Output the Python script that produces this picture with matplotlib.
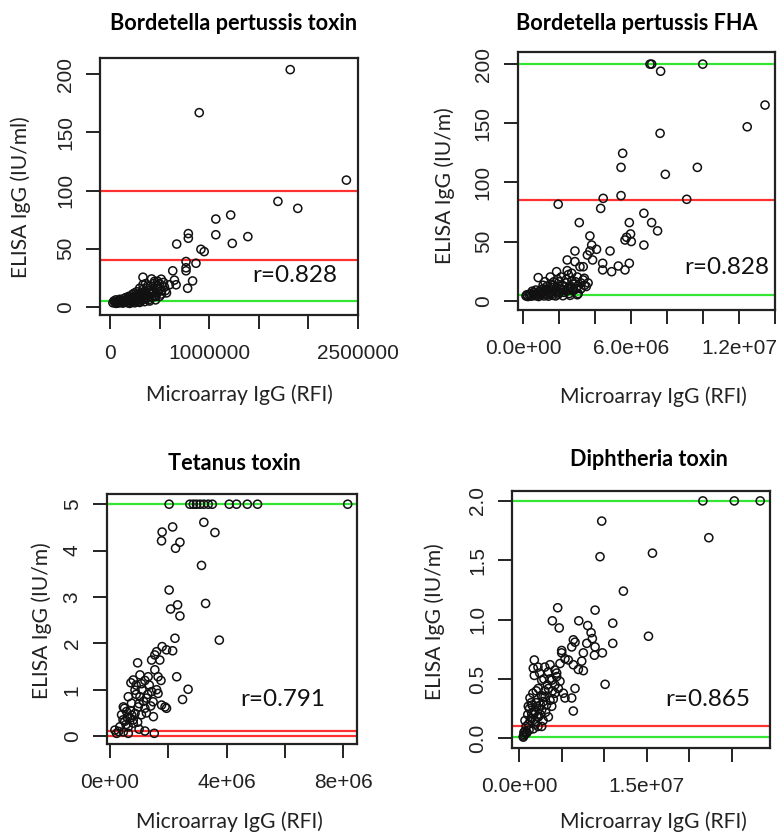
import numpy as np
import matplotlib
matplotlib.use("Agg")
import matplotlib.pyplot as plt

W, H = 777, 834
DPI = 100

LABEL_FONT = ["Lato", "DejaVu Sans"]
TICK_FONT = ["Liberation Sans", "DejaVu Sans"]
RED = "#ff3030"
GREEN = "#33e633"

# ---- Bordetella pertussis toxin (x in millions of RFI, y in IU/ml)
pt_x = [1.817, 0.90, 2.383, 1.693, 1.893, 1.217, 1.067, 0.79, 0.79, 1.067, 1.39, 0.673,
        1.233, 0.917, 0.95, 0.767, 0.867, 0.767, 0.767, 0.633, 0.65, 0.833, 0.783, 0.667,
        0.60, 0.517, 0.333, 0.333, 0.50,
        0.03, 0.05, 0.06, 0.08, 0.10, 0.12, 0.13, 0.15, 0.17, 0.18, 0.20, 0.21, 0.22, 0.24,
        0.25, 0.26, 0.28, 0.29, 0.30, 0.31, 0.32, 0.34, 0.35, 0.36, 0.37, 0.38, 0.39, 0.40,
        0.41, 0.42, 0.43, 0.44, 0.45, 0.46, 0.47, 0.48, 0.50, 0.52, 0.55, 0.57, 0.14, 0.19,
        0.23, 0.27, 0.11, 0.16, 0.09, 0.07, 0.20, 0.25, 0.30, 0.35, 0.33, 0.38, 0.45, 0.27,
        0.33, 0.40,
        0.04, 0.06, 0.08, 0.10, 0.12, 0.14, 0.16, 0.18, 0.20, 0.22, 0.24, 0.26, 0.28, 0.30,
        0.32, 0.34, 0.36, 0.38, 0.40, 0.42, 0.44, 0.46, 0.48, 0.50, 0.52, 0.54, 0.56, 0.36,
        0.30, 0.25, 0.42, 0.48]
pt_y = [204, 167, 109, 90.7, 84.7, 79, 75.5, 63, 59, 62, 60.4, 54,
        54.6, 49.5, 47.5, 39, 37.5, 33.6, 31, 31, 23, 22.3, 16, 19,
        19, 23.8, 25.5, 19, 20,
        3.5, 4, 3, 4.5, 3.8, 5, 3.2, 4.2, 6, 3.5, 5.5, 7, 4, 8,
        5, 6.5, 9, 4.5, 7.5, 11, 5.5, 9.5, 13, 7, 16, 10, 6, 12,
        18, 8.5, 14, 20, 10, 6, 16, 12, 9, 14, 17, 12, 7, 9,
        11, 13, 6, 8, 5.5, 3.5, 3, 3.5, 3.8, 4.5, 15, 18, 22, 10,
        8, 5,
        5, 6, 3.2, 6.5, 4, 5, 4.5, 7.5, 8.5, 6, 5, 9.5, 6, 10,
        12, 6.5, 11, 8, 14, 11, 13, 9, 18, 15, 11, 21, 14, 20,
        16, 12, 24, 22]

# ---- Bordetella pertussis FHA
fha_x = [7.04, 7.13, 9.97, 7.63, 13.43, 12.44, 7.60, 5.52, 5.43, 9.67, 7.89, 5.43,
         9.08, 1.94, 4.44, 4.30, 6.70, 7.13, 5.89, 7.46, 3.11, 5.74, 5.96, 5.65,
         6.70, 3.70, 3.80, 4.07, 3.70, 4.82, 2.87, 3.85, 2.44, 3.33, 2.87, 4.41,
         4.41, 4.91, 5.28, 5.65, 5.89, 2.44, 1.85, 3.33, 0.83, 3.56, 3.15, 2.69,
         3.39, 6.00,
         0.15, 0.25, 0.35, 0.45, 0.55, 0.65, 0.75, 0.85, 0.95, 1.05, 1.15, 1.25,
         1.35, 1.45, 1.55, 1.65, 1.75, 1.85, 1.95, 2.05, 2.15, 2.25, 2.35, 2.45,
         2.55, 2.65, 2.75, 2.85, 2.95, 3.05, 1.10, 1.30, 1.50, 1.70, 1.90, 1.20,
         2.10, 1.00, 0.90, 0.60, 1.40, 1.80, 2.20, 2.60, 3.00, 2.00, 2.40, 2.70,
         3.20, 3.40, 1.60,
         0.20, 0.40, 0.60, 0.80, 1.00, 1.20, 1.40, 1.60, 1.80, 2.00, 2.20, 2.40,
         2.60, 2.80, 3.00, 1.30, 1.70, 2.30, 2.90, 3.20, 1.10, 0.70, 0.50, 2.50,
         3.00, 2.00, 1.50, 3.50, 3.60]
fha_y = [200, 200, 200, 194, 165.4, 147, 141.5, 124.6, 112.7, 112.7, 106.8, 88.8,
         85.7, 81.5, 86.5, 78, 73.9, 66, 66, 59, 66, 53.6, 56.4, 51.3,
         47, 54.7, 47, 43.4, 42, 42, 42, 34.4, 34.4, 28.7, 33, 31.6,
         26, 24.5, 29.3, 26, 31.6, 25.4, 24.5, 17.5, 19.5, 38.6, 28.7, 23.2,
         18.9, 50,
         4, 3.5, 4.5, 3.8, 5, 4.2, 6, 3.5, 5.5, 7, 4, 8,
         5, 6.5, 9, 4.5, 7.5, 11, 5.5, 9.5, 13, 7, 15, 10,
         6, 12, 8.5, 14, 10, 6, 10, 12, 14, 16, 18, 16,
         20, 9, 8, 7, 3.8, 4, 4.2, 4.5, 5, 16, 18, 17,
         10, 13, 11,
         5, 6, 5.5, 4.5, 5, 6, 7, 6, 8, 7, 9, 8,
         10, 9, 12, 9, 13, 12, 16, 15, 13, 9, 8, 22,
         20, 12, 20, 12, 15]

# ---- Tetanus toxin
tt_x = [2.03, 2.74, 2.86, 2.97, 3.09, 3.22, 3.37, 3.51, 4.09, 4.34, 4.71, 5.06, 8.15,
        3.22, 3.60, 1.79, 1.77, 2.15, 2.40, 2.25, 3.14, 2.03, 3.28, 2.08, 2.32, 2.40,
        2.23, 3.75, 1.79, 1.94, 2.15, 1.60, 1.54, 1.71, 1.43, 0.95, 2.29, 2.68, 2.49,
        1.49, 1.89, 1.94, 1.20, 1.52, 0.23, 0.63,
        1.54, 1.03, 0.80, 1.31, 1.65, 1.08, 0.86, 1.43, 1.65, 1.03, 1.25, 1.48, 0.63,
        0.74, 0.46, 0.97, 1.20, 1.77, 0.57, 0.86, 1.08, 0.40, 0.69, 0.51, 0.80, 0.34,
        0.63, 0.17, 0.46,
        0.90, 1.00, 1.15, 0.70, 0.60, 0.75, 1.30, 1.10, 0.90, 1.20, 1.35, 1.40, 0.55,
        0.45, 0.80, 0.95, 1.25, 1.60, 1.75, 0.72, 0.50, 0.30, 1.00]
tt_y = [5, 5, 5, 5, 5, 5, 5, 5, 5, 5, 5, 5, 5,
        4.61, 4.39, 4.40, 4.21, 4.51, 4.18, 4.05, 3.68, 3.15, 2.86, 2.74, 2.83, 2.59,
        2.11, 2.07, 1.93, 1.86, 1.84, 1.82, 1.75, 1.64, 1.64, 1.58, 1.28, 1.01, 0.79,
        0.42, 0.63, 0.60, 0.11, 0.06, 0.06, 0.06,
        1.43, 1.32, 1.21, 1.28, 1.28, 1.13, 0.99, 0.96, 0.92, 0.85, 0.82, 0.74, 0.85,
        0.71, 0.63, 0.63, 0.60, 0.67, 0.53, 0.49, 0.46, 0.46, 0.39, 0.32, 0.28, 0.20,
        0.20, 0.13, 0.09,
        0.90, 0.70, 0.75, 0.55, 0.40, 0.45, 0.90, 1.00, 1.10, 1.20, 1.10, 0.65, 0.25,
        0.35, 0.35, 0.30, 0.50, 1.00, 1.20, 1.15, 0.60, 0.10, 0.15]

# ---- Diphtheria toxin
dt_x = [21.6, 25.3, 28.35, 22.3, 9.7, 9.5, 15.67, 12.25, 8.92, 4.52, 3.89, 4.70,
        7.00, 8.05, 8.45, 8.60, 11.0, 15.2, 11.0, 10.1, 6.36, 7.94, 8.92, 8.84,
        9.78, 6.56, 6.17, 7.54, 7.35, 6.95, 7.54, 6.36, 5.77, 4.99, 4.99, 5.38,
        4.79, 6.36,
        1.77, 1.65, 1.77, 3.62, 3.42, 4.20, 4.40, 3.82, 2.64, 2.24, 3.42, 4.20,
        4.79, 4.20, 3.03, 5.18, 6.56, 6.17, 5.38, 1.26, 1.06, 2.05, 2.83, 3.62,
        2.64, 3.82, 3.42, 2.24, 1.46, 0.67, 1.85, 2.64, 1.65, 0.67, 0.47,
        1.20, 1.50, 1.80, 2.00, 2.30, 1.40, 1.90, 2.20, 1.10, 0.90, 0.60, 0.50,
        0.80, 2.50, 2.80, 3.10, 3.00, 2.60, 3.90, 4.60, 4.00, 3.20, 1.60, 2.40,
        3.00, 2.20,
        1.30, 1.70, 2.10, 2.50, 1.00, 2.80, 3.30, 3.60, 4.40, 2.90, 2.00, 1.40,
        0.80, 1.15, 0.55]
dt_y = [2.0, 2.0, 2.0, 1.69, 1.83, 1.53, 1.56, 1.24, 1.08, 1.10, 0.99, 0.93,
        0.99, 0.95, 0.89, 0.84, 0.97, 0.86, 0.80, 0.455, 0.23, 0.80, 0.77, 0.70,
        0.72, 0.81, 0.77, 0.72, 0.65, 0.58, 0.57, 0.62, 0.66, 0.74, 0.72, 0.67,
        0.63, 0.83,
        0.66, 0.59, 0.53, 0.62, 0.56, 0.575, 0.52, 0.49, 0.49, 0.42, 0.42, 0.45,
        0.48, 0.38, 0.35, 0.38, 0.42, 0.34, 0.34, 0.34, 0.27, 0.27, 0.31, 0.32,
        0.24, 0.27, 0.18, 0.18, 0.21, 0.15, 0.14, 0.10, 0.08, 0.06, 0.01,
        0.25, 0.28, 0.22, 0.30, 0.25, 0.17, 0.12, 0.10, 0.12, 0.05, 0.03, 0.02,
        0.04, 0.20, 0.15, 0.22, 0.40, 0.36, 0.40, 0.42, 0.33, 0.28, 0.38, 0.55,
        0.60, 0.60,
        0.15, 0.20, 0.18, 0.28, 0.20, 0.35, 0.45, 0.50, 0.55, 0.50, 0.40, 0.30,
        0.10, 0.07, 0.05]

PANELS = [
    dict(title="Bordetella pertussis toxin", x=pt_x, y=pt_y,
         rect=(100, 58, 358, 315), xlim=(-0.1e6, 2.5e6), ylim=(-7, 214),
         xticks=[0, 0.5e6, 1e6, 1.5e6, 2e6, 2.5e6],
         xticklabels=["0", "", "1000000", "", "", "2500000"],
         yticks=[0, 50, 100, 150, 200], yticklabels=["0", "50", "100", "150", "200"],
         hlines=[(100, RED), (40, RED), (5, GREEN)],
         ylabel="ELISA IgG (IU/ml)", r="r=0.828",
         title_xy=(234, 23), ylabel_xy=(21, 197), xlabel_xy=(239, 395), r_xy=(295, 275)),
    dict(title="Bordetella pertussis FHA", x=fha_x, y=fha_y,
         rect=(517.7, 52.3, 775.3, 310), xlim=(-0.31e6, 14.0e6), ylim=(-7.9, 210),
         xticks=[0, 2e6, 4e6, 6e6, 8e6, 10e6, 12e6, 14e6],
         xticklabels=["0.0e+00", "", "", "6.0e+06", "", "", "1.2e+07", ""],
         yticks=[0, 50, 100, 150, 200], yticklabels=["0", "50", "100", "150", "200"],
         hlines=[(200, GREEN), (85, RED), (5, GREEN)],
         ylabel="ELISA IgG (IU/m)", r="r=0.828",
         title_xy=(637, 23), ylabel_xy=(445, 186), xlabel_xy=(653, 397), r_xy=(727, 267)),
    dict(title="Tetanus toxin", x=tt_x, y=tt_y,
         rect=(106.7, 494, 357.3, 744), xlim=(-0.11e6, 8.48e6), ylim=(-0.17, 5.22),
         xticks=[0, 2e6, 4e6, 6e6, 8e6],
         xticklabels=["0e+00", "", "4e+06", "", "8e+06"],
         yticks=[0, 1, 2, 3, 4, 5], yticklabels=["0", "1", "2", "3", "4", "5"],
         hlines=[(5, GREEN), (0.1, RED), (0, RED)],
         ylabel="ELISA IgG (IU/m)", r="r=0.791",
         title_xy=(234, 463), ylabel_xy=(42, 621), xlabel_xy=(229, 822), r_xy=(283, 699)),
    dict(title="Diphtheria toxin", x=dt_x, y=dt_y,
         rect=(512.3, 490.7, 770, 748.3), xlim=(-0.82e6, 29.5e6), ylim=(-0.084, 2.086),
         xticks=[0, 5e6, 10e6, 15e6, 20e6, 25e6],
         xticklabels=["0.0e+00", "", "", "1.5e+07", "", ""],
         yticks=[0, 0.5, 1.0, 1.5, 2.0], yticklabels=["0.0", "0.5", "1.0", "1.5", "2.0"],
         hlines=[(2.0, GREEN), (0.1, RED), (0.01, GREEN)],
         ylabel="ELISA IgG (IU/m)", r="r=0.865",
         title_xy=(649, 460), ylabel_xy=(435, 622), xlabel_xy=(653, 822), r_xy=(708, 699)),
]


def fig_xy(px, py):
    return px / W, 1 - py / H


fig = plt.figure(figsize=(W / DPI, H / DPI), dpi=DPI, facecolor="white")

for p in PANELS:
    x0, y0, x1, y1 = p["rect"]
    ax = fig.add_axes([x0 / W, 1 - y1 / H, (x1 - x0) / W, (y1 - y0) / H])
    for val, col in p["hlines"]:
        ax.axhline(val, color=col, lw=1.6, zorder=1)
    ax.scatter(np.array(p["x"]) * 1e6, p["y"], s=34, facecolors="none",
               edgecolors="#111111", linewidths=1.1, zorder=2, clip_on=False)
    ax.set_xlim(*p["xlim"])
    ax.set_ylim(*p["ylim"])
    ax.set_xticks(p["xticks"])
    ax.set_xticklabels(p["xticklabels"], fontfamily=TICK_FONT, fontsize=15,
                       color="#222222")
    ax.set_yticks(p["yticks"])
    ax.set_yticklabels(p["yticklabels"], fontfamily=TICK_FONT, fontsize=15,
                       color="#222222", rotation=90, va="center")
    ax.tick_params(axis="both", length=10, width=1.4, color="#222222")
    ax.tick_params(axis="x", pad=11)
    ax.tick_params(axis="y", pad=8)
    for sp in ax.spines.values():
        sp.set_linewidth(1.6)
        sp.set_color("#222222")

    fig.text(*fig_xy(*p["title_xy"]), p["title"], ha="center", va="center",
             fontfamily=LABEL_FONT, fontweight="bold", fontsize=15.6)
    fig.text(*fig_xy(*p["ylabel_xy"]), p["ylabel"], ha="center", va="center",
             rotation=90, fontfamily=LABEL_FONT, fontsize=15.2, color="#222222")
    fig.text(*fig_xy(*p["xlabel_xy"]), "Microarray IgG (RFI)", ha="center",
             va="center", fontfamily=LABEL_FONT, fontsize=15.2, color="#222222")
    fig.text(*fig_xy(*p["r_xy"]), p["r"], ha="center", va="center",
             fontfamily=LABEL_FONT, fontsize=17.5, color="#111111")

fig.savefig("out.png", dpi=DPI, facecolor="white")
